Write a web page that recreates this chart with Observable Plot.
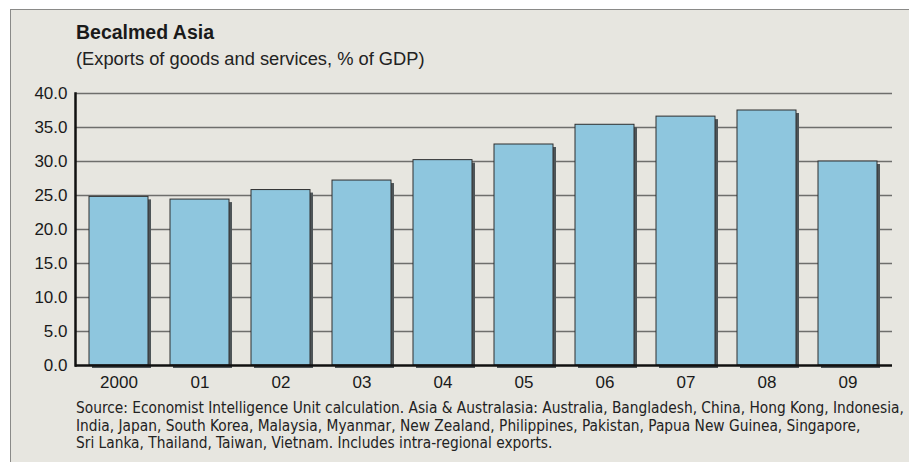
<!DOCTYPE html>
<html>
<head>
<meta charset="utf-8">
<script src="https://cdn.jsdelivr.net/npm/d3@7"></script>
<script src="https://cdn.jsdelivr.net/npm/@observablehq/plot@0.6"></script>
<style>
  html, body { margin: 0; padding: 0; background: #ffffff; width: 909px; height: 462px; overflow: hidden; }
  #panel { position: absolute; left: 10px; top: 9px; width: 920px; height: 470px;
           background: #e7e6e0; border-left: 1.5px solid #8a8a88; border-top: 1.5px solid #8a8a88; box-sizing: border-box; }
  .t { position: absolute; left: 76px; color: #1a1a1a; white-space: nowrap; font-family: "Liberation Sans", Arial, sans-serif; }
  #title { top: 22.5px; font-size: 19.5px; font-weight: bold; line-height: 1; }
  #subtitle { top: 49.8px; font-size: 18.3px; line-height: 1; color: #222; }
  #caption { top: 400px; font-size: 15.3px; line-height: 17.6px; color: #222;
             font-family: "DejaVu Sans Condensed", "Liberation Sans", sans-serif; }
  #chart { position: absolute; left: 0; top: 80px; }
</style>
</head>
<body>
<div id="panel"></div>
<div id="title" class="t">Becalmed Asia</div>
<div id="subtitle" class="t">(Exports of goods and services, % of GDP)</div>
<div id="chart"></div>
<div id="caption" class="t">Source: Economist Intelligence Unit calculation. Asia &amp; Australasia: Australia, Bangladesh, China, Hong Kong, Indonesia,<br>India, Japan, South Korea, Malaysia, Myanmar, New Zealand, Philippines, Pakistan, Papua New Guinea, Singapore,<br>Sri Lanka, Thailand, Taiwan, Vietnam. Includes intra-regional exports.</div>
<script>
const years = ["2000", "01", "02", "03", "04", "05", "06", "07", "08", "09"];
const exportsPct = [24.8, 24.4, 25.8, 27.2, 30.2, 32.5, 35.4, 36.6, 37.5, 30.0];
const yTicks = [0, 5, 10, 15, 20, 25, 30, 35, 40];

const data = years.map((year, i) => ({year, value: exportsPct[i]}));

const chart = Plot.plot({
  width: 909,
  height: 315,
  marginLeft: 75,
  marginRight: 17,
  marginTop: 13,
  marginBottom: 30,
  style: { background: "transparent", fontFamily: "'Liberation Sans', Arial, sans-serif", fontSize: "17px", color: "#1a1a1a" },
  x: { domain: years, paddingInner: 0.27, paddingOuter: 0.135, label: null },
  y: { domain: [0, 40], ticks: yTicks, label: null },
  marks: [
    Plot.ruleY(yTicks.filter(d => d > 0), { stroke: "#6e6e6c", strokeWidth: 1.5 }),
    Plot.barY(data, { x: "year", y: "value", fill: "#4e5558", dx: 3, dy: 3 }),
    Plot.barY(data, { x: "year", y: "value", fill: "#8ec6de", stroke: "#2e2e2e", strokeWidth: 1 }),
    Plot.ruleY([0], { stroke: "#111111", strokeWidth: 2.5 }),
    Plot.frame({ anchor: "left", stroke: "#111111", strokeWidth: 2.5 }),
    Plot.axisY({ ticks: yTicks, tickSize: 0, tickPadding: 8, tickFormat: d => d.toFixed(1), label: null, fill: "#1a1a1a" }),
    Plot.axisX({ tickSize: 0, tickPadding: 10, label: null, fill: "#1a1a1a" })
  ]
});
document.getElementById("chart").appendChild(chart);
</script>
</body>
</html>
